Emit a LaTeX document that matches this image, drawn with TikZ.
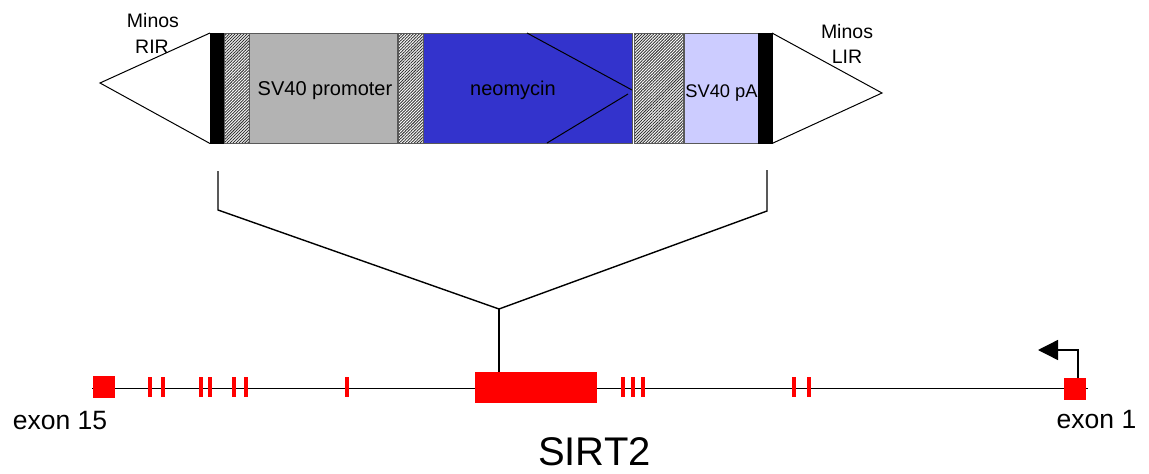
\documentclass[tikz,border=0pt]{standalone}
\usepackage{fontspec}
\setmainfont{Liberation Sans}
\usetikzlibrary{arrows.meta,patterns.meta}
\begin{document}
\begin{tikzpicture}[x=1pt,y=-1pt,
  seg/.style={draw=black!65, line width=1pt, inner sep=0pt, outer sep=0pt, anchor=north west, minimum height=110pt},
  hatchbox/.style={seg, pattern={Lines[angle=45,distance=2.1pt,line width=0.9pt]}, pattern color=black!80},
  bar/.style={seg, fill=black, draw=black},
  tri/.style={draw=black, line width=1pt, fill=white, line join=miter},
  exon/.style={fill=red, inner sep=0pt, outer sep=0pt},
  tick/.style={draw=red, line width=3.5pt},
  conn/.style={draw=black, line width=1.4pt},
  lbl/.style={anchor=base, inner sep=0pt, font=\fontsize{20}{24}\selectfont},
  minos/.style={anchor=base, inner sep=0pt, font=\fontsize{19.5}{24}\selectfont},
  exlbl/.style={anchor=base, inner sep=0pt, font=\fontsize{26.5}{30}\selectfont}
]
\useasboundingbox (0,0) rectangle (1149,474);

% --- construct ---
\draw[tri] (210,33) -- (100,83) -- (210,143.5);
\draw[tri] (772,33) -- (882,93) -- (772,143.5);

\node[bar, minimum width=14pt] (barL) at (210,33) {};
\node[hatchbox, minimum width=25pt] (h1) at (224,33) {};
\node[seg, fill={rgb,255:red,179;green,179;blue,179}, minimum width=148pt] (prom) at (249,33) {};
\node[hatchbox, minimum width=25pt] (h2) at (398,33.5) {};
\node[seg, fill={rgb,255:red,51;green,51;blue,204}, minimum width=209pt] (neo) at (423,33) {};
\node[hatchbox, minimum width=49pt] (h3) at (634,33) {};
\node[seg, fill={rgb,255:red,204;green,204;blue,255}, minimum width=74pt] (pA) at (684,33) {};
\node[bar, minimum width=14pt] (barR) at (758,33) {};

\coordinate (na1) at (527,33);
\coordinate (na2) at (632,90);
\coordinate (na3) at (547,143);
\coordinate (na4) at (628,94);
\draw[black, line width=1pt] (na1) -- (na2);
\draw[black, line width=1pt] (na3) -- (na4);

\node[minos] (minR1) at (153,27) {Minos};
\node[minos] (minR2) at (152,53) {RIR};
\node[minos] (minL1) at (847,38) {Minos};
\node[minos] (minL2) at (847,63.5) {LIR};

\node[lbl] (tprom) at (325,95) {SV40 promoter};
\node[lbl] (tneo) at (513,95) {neomycin};
\node[lbl, font=\fontsize{18.3}{22}\selectfont] (tpA) at (721.5,97) {SV40 pA};

% --- bracket ---
\coordinate (bl) at (218,171);
\coordinate (blc) at (218,210);
\coordinate (apex) at (499,309);
\coordinate (brc) at (767,211);
\coordinate (br) at (767,170);
\draw[conn] (bl) -- (blc) -- (apex) -- (brc) -- (br);

% --- gene ---
\coordinate (g0) at (92,388.5);
\coordinate (g1) at (1088,388.5);
\draw[black, line width=1.5pt] (g0) -- (g1);

\foreach \x in {150,163,201,210,234,246,347,623,633,643,794,809}
  \draw[tick] (\x,377) -- (\x,397);

\node[exon, minimum width=22pt, minimum height=22pt] (ex15) at (104,387) {};
\node[exon, minimum width=22pt, minimum height=22pt] (ex1) at (1075,389) {};
\node[exon, minimum width=122pt, minimum height=31pt] (big) at (536,387.5) {};

\draw[conn] (apex) -- (apex |- big.north);

\coordinate (tss) at (1038,350);
\draw[black, line width=1.4pt, -{Triangle[length=20pt,width=20pt]}] ([xshift=3pt]ex1.north) |- (tss);

\node[exlbl] (t15) at (60,429) {exon 15};
\node[exlbl] (t1) at (1096.5,428) {exon 1};
\node[anchor=base, inner sep=0pt, font=\fontsize{40}{44}\selectfont] (sirt) at (594.5,465) {SIRT2};
\end{tikzpicture}
\end{document}
